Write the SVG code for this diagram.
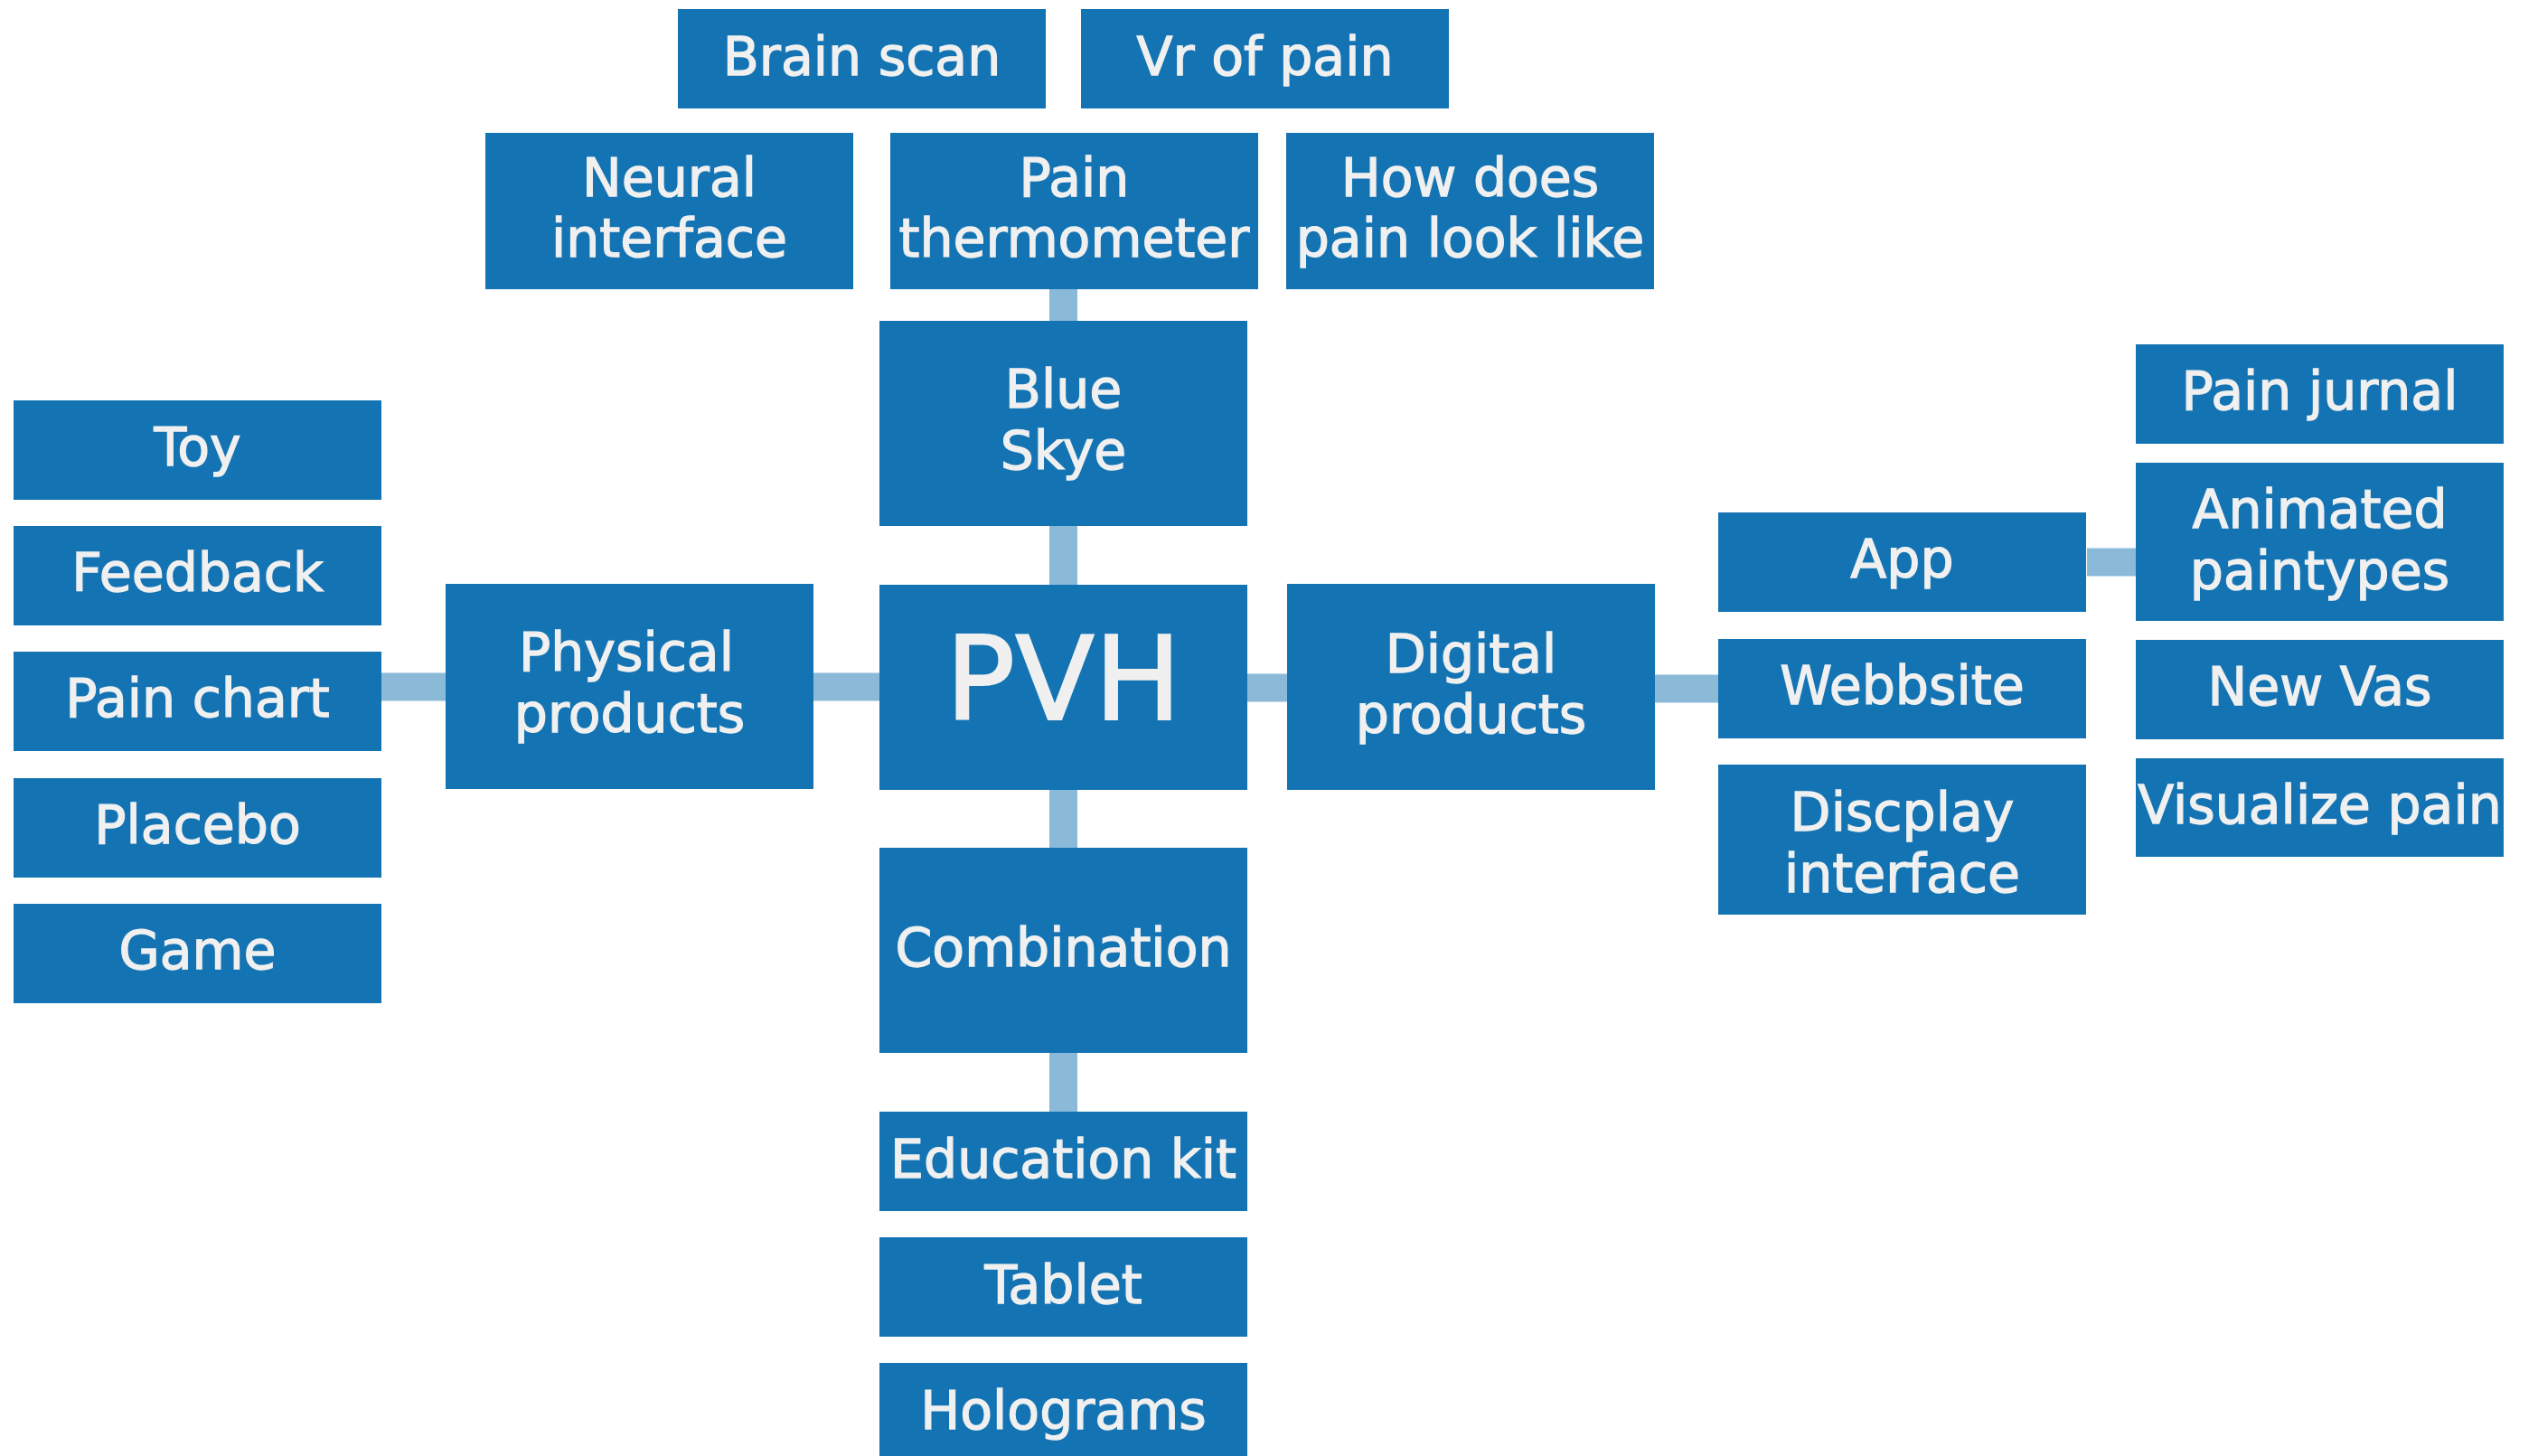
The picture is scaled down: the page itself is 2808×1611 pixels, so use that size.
<svg xmlns="http://www.w3.org/2000/svg" width="2808" height="1611" viewBox="0 0 2808 1611">
<style>
.b{fill:#1474b3}
.t{fill:#f0f0f0;stroke:#f0f0f0;stroke-width:1.3;font-family:"DejaVu Sans","Liberation Sans",sans-serif;font-size:58.5px;text-anchor:middle}
.big{font-size:128px;stroke-width:2}
.c{stroke:#8bbad9;stroke-width:31;fill:none}
</style>
<rect width="2808" height="1611" fill="#ffffff"/>
<g id="connectors">
<line class="c" x1="422" y1="760" x2="493" y2="760"/>
<line class="c" x1="900" y1="760" x2="973" y2="760"/>
<line class="c" x1="1380" y1="761" x2="1424" y2="761"/>
<line class="c" x1="1830" y1="762" x2="1901" y2="762"/>
<line class="c" x1="2309" y1="622" x2="2363" y2="622"/>
<line class="c" x1="1176.5" y1="320" x2="1176.5" y2="355"/>
<line class="c" x1="1176.5" y1="582" x2="1176.5" y2="647"/>
<line class="c" x1="1176.5" y1="874" x2="1176.5" y2="938"/>
<line class="c" x1="1176.5" y1="1165" x2="1176.5" y2="1230"/>
</g>
<g id="brain-scan"><rect class="b" x="750" y="10" width="407" height="110"/><text class="t" x="953.5" y="83">Brain scan</text></g>
<g id="vr-of-pain"><rect class="b" x="1196" y="10" width="407" height="110"/><text class="t" x="1399.5" y="83">Vr of pain</text></g>
<g id="neural-interface"><rect class="b" x="537" y="147" width="407" height="173"/><text class="t" x="740.5" y="217">Neural</text><text class="t" x="740.5" y="284">interface</text></g>
<g id="pain-thermometer"><rect class="b" x="985" y="147" width="407" height="173"/><text class="t" x="1188.5" y="217">Pain</text><text class="t" x="1188.5" y="284">thermometer</text></g>
<g id="how-does-pain-look-like"><rect class="b" x="1423" y="147" width="407" height="173"/><text class="t" x="1626.5" y="217">How does</text><text class="t" x="1626.5" y="284">pain look like</text></g>
<g id="blue-skye"><rect class="b" x="973" y="355" width="407" height="227"/><text class="t" x="1176.5" y="451">Blue</text><text class="t" x="1176.5" y="519">Skye</text></g>
<g id="pvh"><rect class="b" x="973" y="647" width="407" height="227"/><text class="t big" x="1176.5" y="796">PVH</text></g>
<g id="combination"><rect class="b" x="973" y="938" width="407" height="227"/><text class="t" x="1176.5" y="1069">Combination</text></g>
<g id="education-kit"><rect class="b" x="973" y="1230" width="407" height="110"/><text class="t" x="1176.5" y="1303">Education kit</text></g>
<g id="tablet"><rect class="b" x="973" y="1369" width="407" height="110"/><text class="t" x="1176.5" y="1442">Tablet</text></g>
<g id="holograms"><rect class="b" x="973" y="1508" width="407" height="110"/><text class="t" x="1176.5" y="1581">Holograms</text></g>
<g id="physical-products"><rect class="b" x="493" y="646" width="407" height="227"/><text class="t" x="693" y="742">Physical</text><text class="t" x="696.5" y="810">products</text></g>
<g id="toy"><rect class="b" x="15" y="443" width="407" height="110"/><text class="t" x="218.5" y="515">Toy</text></g>
<g id="feedback"><rect class="b" x="15" y="582" width="407" height="110"/><text class="t" x="218.5" y="654">Feedback</text></g>
<g id="pain-chart"><rect class="b" x="15" y="721" width="407" height="110"/><text class="t" x="218.5" y="793">Pain chart</text></g>
<g id="placebo"><rect class="b" x="15" y="861" width="407" height="110"/><text class="t" x="218.5" y="933">Placebo</text></g>
<g id="game"><rect class="b" x="15" y="1000" width="407" height="110"/><text class="t" x="218.5" y="1072">Game</text></g>
<g id="digital-products"><rect class="b" x="1424" y="646" width="407" height="228"/><text class="t" x="1627.5" y="744">Digital</text><text class="t" x="1627.5" y="811">products</text></g>
<g id="app"><rect class="b" x="1901" y="567" width="407" height="110"/><text class="t" x="2104.5" y="639">App</text></g>
<g id="webbsite"><rect class="b" x="1901" y="707" width="407" height="110"/><text class="t" x="2104.5" y="779">Webbsite</text></g>
<g id="discplay-interface"><rect class="b" x="1901" y="846" width="407" height="166"/><text class="t" x="2104.5" y="919">Discplay</text><text class="t" x="2104.5" y="987">interface</text></g>
<g id="pain-jurnal"><rect class="b" x="2363" y="381" width="407" height="110"/><text class="t" x="2566.5" y="453">Pain jurnal</text></g>
<g id="animated-paintypes"><rect class="b" x="2363" y="512" width="407" height="175"/><text class="t" x="2566.5" y="584">Animated</text><text class="t" x="2566.5" y="652">paintypes</text></g>
<g id="new-vas"><rect class="b" x="2363" y="708" width="407" height="110"/><text class="t" x="2566.5" y="780">New Vas</text></g>
<g id="visualize-pain"><rect class="b" x="2363" y="839" width="407" height="109"/><text class="t" x="2566.5" y="911">Visualize pain</text></g>
</svg>
